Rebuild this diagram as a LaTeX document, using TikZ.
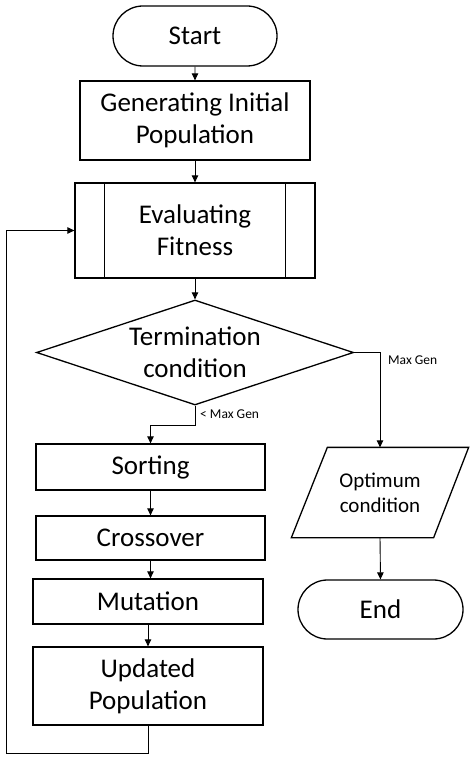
\documentclass[tikz,border=0pt]{standalone}
\usepackage{fontspec}
\setmainfont{Carlito}
\usetikzlibrary{shapes.geometric,shapes.misc,arrows.meta,calc}
\begin{document}
\begin{tikzpicture}[x=1pt,y=-1pt,
  shp/.style={draw, line width=1.3pt, inner sep=0pt, align=center, font=\fontsize{27}{32}\selectfont},
  box/.style={shp, rectangle},
  term/.style={shp, rounded rectangle, minimum width=164pt, minimum height=60pt},
  arr/.style={line width=0.9pt, -{Triangle[length=7pt,width=6.5pt]}},
  loopline/.style={line width=0.8pt},
  lbl/.style={font=\fontsize{13.5}{16}\selectfont, inner sep=0pt, anchor=west}]
\useasboundingbox (0,0) rectangle (474,762);
\fill[white] (0,0) rectangle (474,762);
\node[term] (start) at (195,36) {Start};
\node[box, minimum width=230pt, minimum height=79pt] (gen) at (195,120.5) {Generating Initial\\Population};
\node[box, minimum width=240pt, minimum height=95pt] (eval) at (195,230.5) {Evaluating\\Fitness};
\draw[line width=1.3pt] ([xshift=30pt]eval.north west) -- ([xshift=30pt]eval.south west);
\draw[line width=1.3pt] ([xshift=-30pt]eval.north east) -- ([xshift=-30pt]eval.south east);
\node[shp, diamond, aspect=3.02, minimum width=317pt, minimum height=105pt] (dec) at (195,352.5) {Termination\\condition};
\node[box, minimum width=229pt, minimum height=46pt] (sort) at (150.5,467) {Sorting};
\node[box, minimum width=229pt, minimum height=44pt] (cross) at (150.5,538) {Crossover};
\node[box, minimum width=230pt, minimum height=45pt] (mut) at (148,601.5) {Mutation};
\node[box, minimum width=230pt, minimum height=78pt] (upd) at (148,686) {Updated\\Population};
\node[shp, draw=none, rectangle, minimum width=140pt, minimum height=89pt, font=\fontsize{21}{25}\selectfont] (opt) at (380,492.5) {Optimum\\condition};
\draw[line width=1.3pt, line join=miter] ([xshift=18pt]opt.north west) -- ([xshift=18pt]opt.north east) -- ([xshift=-17pt]opt.south east) -- ([xshift=-18pt]opt.south west) -- cycle;
\node[term, minimum width=165pt, minimum height=59pt] (end) at (380.5,609.5) {End};
\coordinate (lp) at (6,753);
\draw[arr] (start) -- (gen);
\draw[arr] (gen) -- (eval);
\draw[arr] (eval) -- (dec);
\draw[arr] (dec.east) -| (opt.north);
\draw[arr] (opt.south) -- (end.north);
\draw[arr] (dec.south) -- ++(0,20) -| (sort.north);
\draw[arr] (sort) -- (cross);
\draw[arr] (cross.south) -- (cross.south |- mut.north);
\draw[arr] (mut.south) -- (upd.north);
\draw[loopline] (upd.south) |- (lp);
\draw[loopline, -{Triangle[length=7pt,width=6.5pt]}] (lp) |- (eval.west);
\node[lbl] (lmax) at (388,360) {Max Gen};
\node[lbl] (lless) at (200,414) {< Max Gen};
\end{tikzpicture}
\end{document}
